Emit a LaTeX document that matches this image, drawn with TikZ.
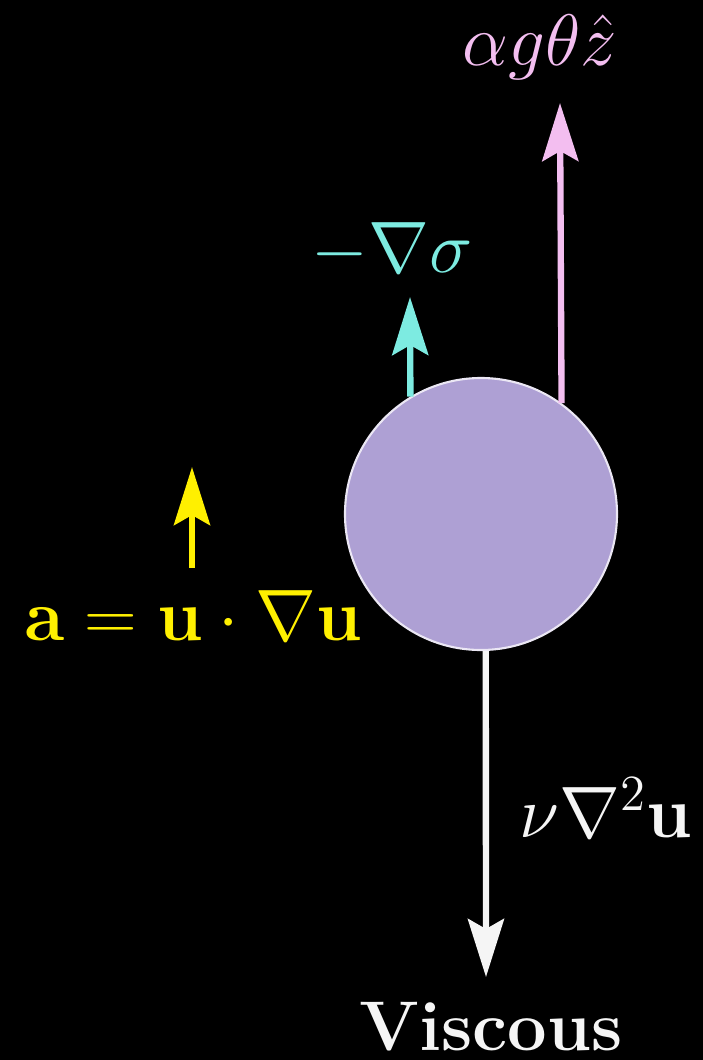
\documentclass[tikz,border=0pt]{standalone}
\usetikzlibrary{arrows.meta}
\definecolor{pinkc}{RGB}{243,190,240}
\definecolor{cyanc}{RGB}{125,235,225}
\definecolor{yellowc}{RGB}{255,240,0}
\definecolor{lav}{RGB}{174,160,212}
\definecolor{whitec}{RGB}{245,245,245}
\begin{document}
\begin{tikzpicture}[x=0.01cm,y=-0.01cm,
  force/.style={line width=1.8pt,-{Stealth[length=5.8mm,width=3.6mm,inset=1mm]}},
  lbl/.style={inner sep=0pt,anchor=base,font=\fontsize{21.5}{26}\selectfont}]
\fill[black] (0,0) rectangle (703,1060);
\useasboundingbox (0,0) rectangle (703,1060);
% parcel
\node[circle,minimum size=272*0.01cm,inner sep=0pt,fill=lav,draw=white!75!lav,line width=0.6pt] (P) at (481,514) {};
% coordinates of free ends
\coordinate (tipz) at (560,103);
\coordinate (tips) at (410,297);
\coordinate (tipv) at (486,977);
\coordinate (basea) at (192,568);
\coordinate (tipa) at (192,467);
% arrows
\draw[force,pinkc] (P.54.6) -- (tipz);
\draw[force,cyanc] (P.121.5) -- (tips);
\draw[force,whitec] (P.-88) -- (tipv);
\draw[force,yellowc] (basea) -- (tipa);
% labels
\node[lbl,text=pinkc] (Lz) at (540,65) {$\alpha g\theta\hat{z}$};
\node[lbl,text=cyanc] (Ls) at (392,272) {$-\nabla\sigma$};
\node[lbl,text=yellowc] (La) at (193,640) {$\mathbf{a}=\mathbf{u}\cdot\nabla\mathbf{u}$};
\node[lbl,text=whitec] (Lv) at (606,837) {$\nu\nabla^2\mathbf{u}$};
\node[lbl,text=whitec,font=\fontsize{20}{24}\selectfont\bfseries] (Lvis) at (491,1050) {Viscous};
\end{tikzpicture}
\end{document}
